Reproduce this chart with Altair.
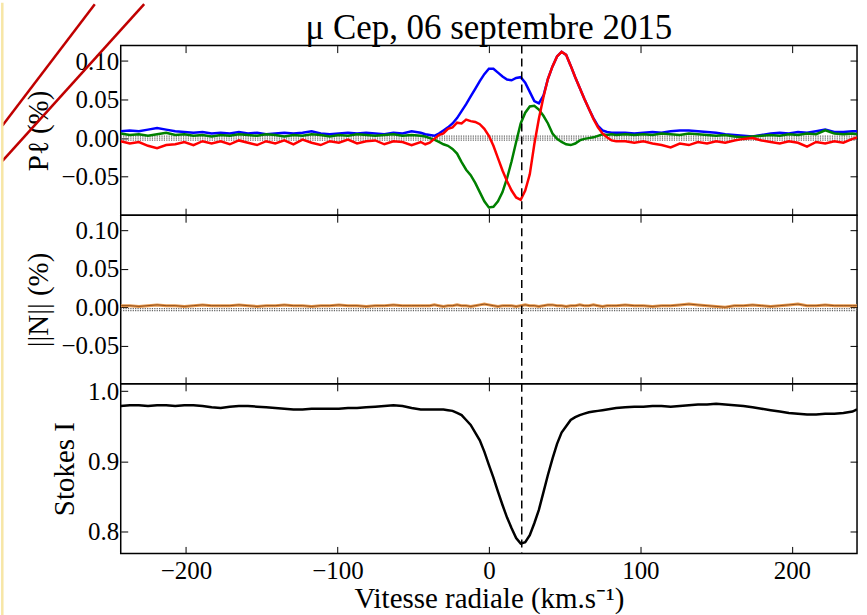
import altair as alt
import pandas as pd

# ---------------- data ----------------
VEL = [-243, -237, -231, -225, -219, -213, -207, -201, -195, -189, -183, -177,
       -171, -165, -159, -153, -147, -141, -135, -129, -123, -117, -111, -105,
       -99, -93, -87, -81, -75, -69, -63, -57, -51, -45,
       -42, -39, -36, -33, -30, -27, -24, -21, -18, -15, -12, -9, -6, -3, 0,
       3, 6, 9, 12, 15, 18, 21, 24, 27, 30, 33, 36, 39, 42, 45, 48, 51, 54, 57,
       60, 63, 66, 69, 72, 75, 78, 81, 84,
       90, 96, 102, 108, 114, 120, 126, 132, 138, 144, 150, 156, 162, 168, 174,
       180, 186, 192, 198, 204, 210, 216, 222, 228, 234, 240, 243]

BLUE = [0.009, 0.010, 0.009, 0.011, 0.013, 0.011, 0.009, 0.008, 0.007, 0.008,
        0.006, 0.007, 0.006, 0.008, 0.006, 0.007, 0.005, 0.006, 0.007, 0.006,
        0.007, 0.009, 0.006, 0.005, 0.006, 0.007, 0.006, 0.007, 0.006, 0.005,
        0.007, 0.006, 0.009, 0.007,
        0.005, 0.004, 0.003, 0.006, 0.010, 0.014, 0.019, 0.026, 0.035, 0.044,
        0.054, 0.064, 0.074, 0.083, 0.090, 0.090, 0.085, 0.080, 0.076, 0.075,
        0.078, 0.079, 0.072, 0.060, 0.048, 0.045, 0.055, 0.077, 0.093, 0.106,
        0.112, 0.108, 0.094, 0.079, 0.065, 0.051, 0.038, 0.026, 0.016, 0.010,
        0.008, 0.007, 0.007,
        0.007, 0.006, 0.007, 0.008, 0.007, 0.009, 0.010, 0.010, 0.009, 0.008,
        0.007, 0.005, 0.004, 0.003, 0.002, 0.004, 0.006, 0.007, 0.006, 0.008,
        0.007, 0.009, 0.011, 0.008, 0.008, 0.009, 0.009]

GREEN = [0.006, 0.004, 0.005, 0.003, 0.005, 0.007, 0.004, 0.005, 0.003, 0.004,
         0.002, 0.004, 0.003, 0.005, 0.004, 0.003, 0.005, 0.004, 0.002, 0.004,
         0.003, 0.005, 0.004, 0.002, 0.004, 0.003, 0.005, 0.004, 0.003, 0.004,
         0.005, 0.003, 0.004, 0.003,
         0.002, 0.000, -0.002, -0.005, -0.008, -0.010, -0.014, -0.020, -0.031,
         -0.041, -0.048, -0.058, -0.070, -0.082, -0.090, -0.089, -0.082, -0.070,
         -0.052, -0.030, -0.005, 0.019, 0.033, 0.041, 0.042, 0.037, 0.029,
         0.019, 0.006, -0.001, -0.005, -0.008, -0.009, -0.007, -0.003, -0.001,
         0.000, 0.001, 0.003, 0.005, 0.004, 0.005, 0.004,
         0.005, 0.004, 0.005, 0.004, 0.006, 0.005, 0.004, 0.006, 0.005, 0.004,
         0.003, 0.004, 0.002, 0.001, 0.002, 0.003, 0.004, 0.003, 0.005, 0.004,
         0.006, 0.005, 0.010, 0.006, 0.005, 0.006, 0.005]

RED = [-0.004, -0.007, -0.005, -0.010, -0.013, -0.009, -0.008, -0.005, -0.009,
       -0.004, -0.007, -0.004, -0.008, -0.003, -0.006, -0.009, -0.004, -0.007,
       -0.003, -0.008, -0.002, -0.006, -0.009, -0.004, -0.006, -0.002, -0.007,
       -0.004, -0.003, -0.008, -0.004, -0.005, -0.009, -0.005,
       -0.008, -0.006, -0.001, 0.004, 0.006, 0.012, 0.014, 0.020, 0.019, 0.024,
       0.022, 0.021, 0.018, 0.012, 0.003, -0.010, -0.026, -0.042, -0.056,
       -0.068, -0.077, -0.080, -0.068, -0.047, -0.008, 0.025, 0.053, 0.077,
       0.093, 0.106, 0.112, 0.108, 0.094, 0.079, 0.065, 0.051, 0.038, 0.025,
       0.014, 0.006, 0.001, -0.003, -0.004,
       -0.004, -0.006, -0.004, -0.007, -0.009, -0.012, -0.007, -0.009, -0.005,
       -0.007, -0.004, -0.006, -0.003, -0.001, 0.000, -0.003, -0.005, -0.007,
       -0.004, -0.006, -0.011, -0.005, -0.007, -0.004, -0.006, -0.001, 0.001]

NULL = [0.002, 0.002, 0.001, 0.002, 0.003, 0.002, 0.002, 0.001, 0.002, 0.003,
        0.002, 0.002, 0.002, 0.003, 0.002, 0.001, 0.002, 0.002, 0.003, 0.002,
        0.002, 0.001, 0.002, 0.002, 0.003, 0.002, 0.002, 0.001, 0.002, 0.002,
        0.003, 0.002, 0.002, 0.002,
        0.002, 0.002, 0.003, 0.002, 0.001, 0.002, 0.002, 0.003, 0.002, 0.002,
        0.001, 0.002, 0.003, 0.004, 0.003, 0.002, 0.001, 0.002, 0.002, 0.002,
        0.001, 0.002, 0.003, 0.002, 0.002, 0.001, 0.002, 0.003, 0.003, 0.002,
        0.002, 0.001, 0.002, 0.002, 0.003, 0.002, 0.002, 0.003, 0.002, 0.001,
        0.002, 0.002, 0.002,
        0.003, 0.002, 0.002, 0.001, 0.002, 0.002, 0.003, 0.004, 0.003, 0.002,
        0.001, 0.000, 0.002, 0.002, 0.003, 0.002, 0.001, 0.002, 0.003, 0.004,
        0.002, 0.002, 0.003, 0.002, 0.002, 0.002, 0.002]

STOKES_I = [0.979, 0.980, 0.980, 0.979, 0.980, 0.980, 0.979, 0.980, 0.980, 0.979,
            0.977, 0.976, 0.978, 0.979, 0.979, 0.978, 0.977, 0.976, 0.975, 0.974,
            0.974, 0.975, 0.975, 0.975, 0.975, 0.976, 0.976, 0.977, 0.978, 0.979,
            0.980, 0.979, 0.976, 0.974,
            0.974, 0.974, 0.974, 0.974, 0.974, 0.973, 0.972, 0.969, 0.966, 0.959,
            0.952, 0.941, 0.930, 0.914, 0.895, 0.877, 0.857, 0.838, 0.820, 0.805,
            0.791, 0.783, 0.785, 0.795, 0.812, 0.831, 0.856, 0.881, 0.904, 0.925,
            0.941, 0.950, 0.959, 0.963, 0.966, 0.968, 0.970, 0.971, 0.972, 0.973,
            0.974, 0.975, 0.976,
            0.977, 0.978, 0.978, 0.979, 0.979, 0.978, 0.979, 0.980, 0.981, 0.981,
            0.982, 0.981, 0.980, 0.979, 0.977, 0.975, 0.973, 0.971, 0.969, 0.968,
            0.967, 0.967, 0.968, 0.968, 0.969, 0.971, 0.974]

V_RAD = [21.7]                         # dashed vertical line
ZERO_P = [0.0025, 0.0, -0.0025]        # dotted zero band, top panel
ZERO_N = [-0.002, -0.0045]             # dotted zero band, middle panel

X_DOMAIN = [-243, 243]
P_DOMAIN = [-0.10, 0.12]
I_DOMAIN = [0.769, 1.0105]
X_TICKS = [-200, -100, 0, 100, 200]
P_TICKS = [-0.05, 0.0, 0.05, 0.10]
I_TICKS = [0.8, 0.9, 1.0]

TITLE = "\u03bc Cep, 06 septembre 2015"
Y1_TITLE = "P\u2113 (%)"
Y2_TITLE = "||N|| (%)"
Y3_TITLE = "Stokes I"
X_TITLE = "Vitesse radiale (km.s\u207b\u00b9)"

for name, arr in [("BLUE", BLUE), ("GREEN", GREEN), ("RED", RED),
                  ("NULL", NULL), ("STOKES_I", STOKES_I)]:
    assert len(arr) == len(VEL), (name, len(arr), len(VEL))

# ---------------- chart ----------------
FONT = "Liberation Serif"
W, H1, H2, H3 = 738, 170, 169, 170
LEFT, TOP = 120, 43          # plot-area origin inside the 867x615 page
PAGE_W, PAGE_H = 867, 615
P3_TOP = TOP + H1 + H2       # page y of the third panel's top edge

df = pd.DataFrame({"v": VEL, "blue": BLUE, "green": GREEN, "red": RED,
                   "null": NULL, "stokes": STOKES_I})
vline_df = pd.DataFrame({"v": V_RAD})
zp_df = pd.DataFrame({"y": ZERO_P})
zn_df = pd.DataFrame({"y": ZERO_N})
one_df = pd.DataFrame({"k": [0]})

xscale = alt.Scale(domain=X_DOMAIN, nice=False, zero=False)
pscale = alt.Scale(domain=P_DOMAIN, nice=False, zero=False)
iscale = alt.Scale(domain=I_DOMAIN, nice=False, zero=False)


def axis(orient, values, labels=False, title=None, fmt=None,
         label_pad=2, title_pad=8):
    kw = dict(orient=orient, values=values, offset=-7, tickSize=7,
              tickColor="black", tickWidth=1, domain=False, grid=False,
              labels=labels, labelPadding=label_pad, labelFont=FONT,
              labelFontSize=25, labelColor="black", labelOverlap=False,
              titleFont=FONT, titleFontSize=29, titleFontWeight="normal",
              titleColor="black", titlePadding=title_pad, title=title,
              minExtent=0)
    if fmt is not None:
        kw["format"] = fmt
    return alt.Axis(**kw)


X_none = alt.X("v:Q", scale=xscale, axis=None)
base = alt.Chart(df)


def vrule():
    return alt.Chart(vline_df).mark_rule(
        color="black", strokeDash=[8, 5], strokeWidth=1.5
    ).encode(x=alt.X("v:Q", scale=xscale, axis=axis("top", X_TICKS)))


def zero_rules(data, scale, ticks):
    return alt.Chart(data).mark_rule(
        color="#666666", strokeDash=[1.2, 1.2], strokeWidth=1.2
    ).encode(y=alt.Y("y:Q", scale=scale, axis=axis("right", ticks)))


def page(px, py):
    """page pixel -> coordinates relative to panel 3's plot origin"""
    return px - LEFT, py - P3_TOP


p1 = alt.layer(
    zero_rules(zp_df, pscale, P_TICKS),
    base.mark_line(color="#0000ff", strokeWidth=2.5, clip=True).encode(
        x=alt.X("v:Q", scale=xscale, axis=axis("bottom", X_TICKS)),
        y=alt.Y("blue:Q", scale=pscale,
                axis=axis("left", P_TICKS, labels=True, title=Y1_TITLE,
                          fmt=".2f"))),
    base.mark_line(color="#008000", strokeWidth=2.5, clip=True).encode(
        x=X_none, y=alt.Y("green:Q", scale=pscale, axis=None)),
    base.mark_line(color="#ff0000", strokeWidth=2.5, clip=True).encode(
        x=X_none, y=alt.Y("red:Q", scale=pscale, axis=None)),
    vrule(),
).properties(width=W, height=H1)

p2 = alt.layer(
    zero_rules(zn_df, pscale, P_TICKS),
    base.mark_line(color="#e8994e", strokeWidth=3, clip=True).encode(
        x=alt.X("v:Q", scale=xscale, axis=axis("bottom", X_TICKS)),
        y=alt.Y("null:Q", scale=pscale,
                axis=axis("left", P_TICKS, labels=True, title=Y2_TITLE,
                          fmt=".2f"))),
    base.mark_line(color="#7a3d10", strokeWidth=0.8, clip=True).encode(
        x=X_none, y=alt.Y("null:Q", scale=pscale, axis=None)),
    vrule(),
).properties(width=W, height=H2)

# decorations outside the plot area (pixel values relative to panel 3)
ax0, ay0 = page(1.5, 123)
ax1, ay1 = page(94, 1.5)
bx0, by0 = page(1.5, 158.5)
bx1, by1 = page(143.5, 1.5)
ex, ey0 = page(1.3, 0)
_, ey1 = page(1.3, PAGE_H)
fx0, fy0 = page(0, 0)
fx1, fy1 = page(PAGE_W, PAGE_H)
tx, ty = page(LEFT + W / 2, 36.5)

diag_a = alt.Chart(one_df).mark_rule(color="#c00000", strokeWidth=2.5).encode(
    x=alt.value(ax0), y=alt.value(ay0), x2=alt.value(ax1), y2=alt.value(ay1))
diag_b = alt.Chart(one_df).mark_rule(color="#c00000", strokeWidth=2.5).encode(
    x=alt.value(bx0), y=alt.value(by0), x2=alt.value(bx1), y2=alt.value(by1))
edge = alt.Chart(one_df).mark_rule(color="#f7e6a6", strokeWidth=2.5).encode(
    x=alt.value(ex), y=alt.value(ey0), x2=alt.value(ex), y2=alt.value(ey1))
# invisible page frame: fixes the drawing's extent to the 867x615 page
frame = alt.Chart(one_df).mark_rect(opacity=0).encode(
    x=alt.value(fx0), y=alt.value(fy0), x2=alt.value(fx1), y2=alt.value(fy1))
title = alt.Chart(one_df).mark_text(
    text=TITLE, font=FONT, fontSize=35, color="black", align="center",
    baseline="alphabetic"
).encode(x=alt.value(tx), y=alt.value(ty))

p3 = alt.layer(
    frame,
    base.mark_line(color="black", strokeWidth=2.5, clip=True).encode(
        x=alt.X("v:Q", scale=xscale,
                axis=axis("bottom", X_TICKS, labels=True, title=X_TITLE,
                          fmt="d", label_pad=5, title_pad=1)),
        y=alt.Y("stokes:Q", scale=iscale,
                axis=axis("left", I_TICKS, labels=True, title=Y3_TITLE,
                          fmt=".1f"))),
    base.mark_line(opacity=0, clip=True).encode(
        x=X_none, y=alt.Y("stokes:Q", scale=iscale, axis=axis("right", I_TICKS))),
    vrule(),
    title,
    diag_a, diag_b, edge,
).properties(width=W, height=H3)

chart = alt.vconcat(p1, p2, p3, spacing=0, bounds="flush").properties(
    padding=0,
    autosize=alt.AutoSizeParams(type="pad"),
    background="white",
).configure_view(stroke="black", strokeWidth=1.5)

chart.save("out.html", embed_options={"renderer": "svg", "actions": False})
